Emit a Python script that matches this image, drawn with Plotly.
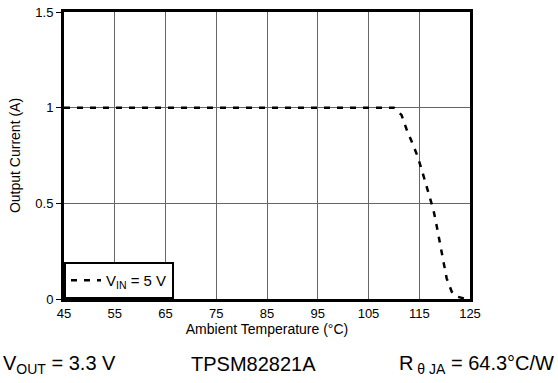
import plotly.graph_objects as go

temp = [45, 110, 111.5, 112.5, 113.6, 114.7, 115.5, 116.3, 117.1, 117.8, 118.4, 118.9, 119.4, 120.4, 121.4, 122.5, 124.3]
current = [1.0, 1.0, 0.962, 0.887, 0.817, 0.744, 0.674, 0.605, 0.531, 0.465, 0.387, 0.326, 0.247, 0.108, 0.038, 0.012, 0.0]
x_ticks = [45, 55, 65, 75, 85, 95, 105, 115, 125]
y_ticks = [0, 0.5, 1, 1.5]
y_tick_labels = ["0", "0.5", "1", "1.5"]

FONT = "Liberation Sans, Arial, sans-serif"
W, H = 558, 383
ML, MR, MT, MB = 64, 88, 12, 84

fig = go.Figure()
fig.add_trace(go.Scatter(
    x=temp, y=current, mode="lines",
    line=dict(color="black", width=2.5, dash="6px,7px"),
    name="V<sub>IN</sub> = 5 V",
))

plot_w = W - ML - MR
plot_h = H - MT - MB
def px_to_paper(px, py):
    return (px - ML) / plot_w, (H - MB - py) / plot_h

a0 = px_to_paper(1, 364)
a1 = px_to_paper(253, 364)
a2 = px_to_paper(556, 364)

fig.update_layout(
    width=W, height=H,
    margin=dict(l=ML, r=MR, t=MT, b=MB, pad=0),
    paper_bgcolor="white", plot_bgcolor="white",
    font=dict(family=FONT, size=12, color="black"),
    showlegend=True,
    legend=dict(
        x=0, y=0, xanchor="left", yanchor="bottom",
        bordercolor="black", borderwidth=2, bgcolor="white",
        font=dict(size=15, family=FONT),
    ),
    xaxis=dict(
        range=[45, 125], tickvals=x_ticks, ticktext=[str(v) for v in x_ticks],
        showgrid=True, gridcolor="#666666", gridwidth=1,
        showline=True, linecolor="black", linewidth=3, mirror=True,
        ticks="", zeroline=False, automargin=False,
        title=dict(text="Ambient Temperature (°C)", font=dict(size=14), standoff=0),
        tickfont=dict(size=13),
    ),
    yaxis=dict(
        range=[0, 1.5], tickvals=y_ticks, ticktext=y_tick_labels,
        showgrid=True, gridcolor="#666666", gridwidth=1,
        showline=True, linecolor="black", linewidth=3, mirror=True,
        ticks="outside", ticklen=5, tickcolor="black", zeroline=False, automargin=False,
        title=dict(text="Output Current (A)", font=dict(size=14), standoff=12),
        tickfont=dict(size=13),
    ),
    annotations=[
        dict(text="V<sub>OUT</sub> = 3.3 V", x=a0[0], y=a0[1], xref="paper", yref="paper",
             xanchor="left", yanchor="middle", showarrow=False, font=dict(size=20)),
        dict(text="TPSM82821A", x=a1[0], y=a1[1], xref="paper", yref="paper",
             xanchor="center", yanchor="middle", showarrow=False, font=dict(size=20)),
        dict(text="R<sub> θ JA</sub> = 64.3°C/W", x=a2[0], y=a2[1], xref="paper", yref="paper",
             xanchor="right", yanchor="middle", showarrow=False, font=dict(size=20)),
    ],
)

fig.write_html("out.html", config={"displayModeBar": False},
               post_script="document.body.style.margin='0';")
